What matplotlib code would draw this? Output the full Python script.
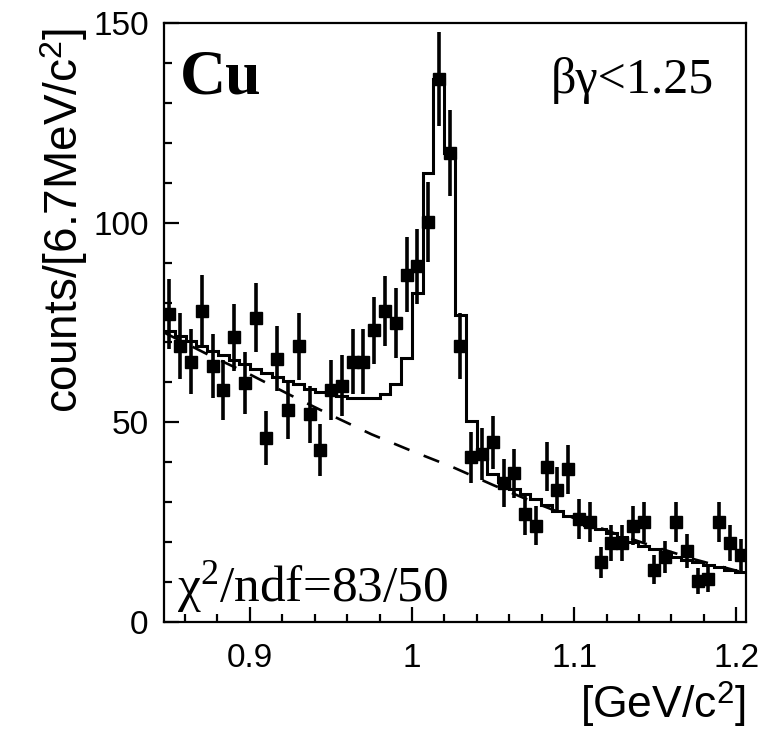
import numpy as np
import matplotlib.pyplot as plt
from matplotlib.ticker import MultipleLocator

plt.rcParams['mathtext.fontset'] = 'custom'
plt.rcParams['mathtext.rm'] = 'Liberation Serif'
plt.rcParams['mathtext.sf'] = 'Liberation Sans'
plt.rcParams['mathtext.it'] = 'Liberation Serif:italic'
plt.rcParams['lines.scale_dashes'] = False

# histogram binning: 54 bins between the axis limits
X_LO = 0.847
X_HI = 1.206
N_BINS = 54

counts = [77.2, 69.1, 65.2, 78.0, 64.1, 58.1, 71.3, 59.9, 76.2, 46.1,
          65.9, 53.2, 69.0, 52.0, 43.1, 58.1, 59.2, 65.2, 65.2, 73.0,
          77.8, 74.9, 87.0, 89.1, 100.1, 136.0, 117.5, 69.1, 41.2, 42.0,
          45.0, 34.8, 37.2, 27.0, 24.1, 38.9, 33.0, 38.2, 25.8, 25.1,
          14.9, 19.9, 19.9, 24.1, 25.1, 13.1, 16.2, 25.1, 17.8, 10.2,
          10.8, 25.1, 19.9, 16.8]

errors = [8.8, 8.3, 8.1, 8.8, 8.0, 7.6, 8.4, 7.7, 8.7, 6.8,
          8.1, 7.3, 8.3, 7.2, 6.6, 7.6, 7.7, 8.1, 8.1, 8.5,
          8.8, 8.7, 9.3, 9.4, 10.0, 11.7, 10.8, 8.3, 6.4, 6.5,
          6.7, 5.9, 6.1, 5.2, 4.9, 6.2, 5.7, 6.2, 5.1, 5.0,
          3.9, 4.5, 4.5, 4.9, 5.0, 3.6, 4.0, 5.0, 4.2, 3.2,
          3.3, 5.0, 4.5, 4.1]

fit = [72.8, 71.6, 70.3, 69.1, 67.8, 66.8, 65.6, 64.5, 63.4, 62.4,
       61.4, 60.3, 59.5, 58.4, 57.5, 57.0, 56.5, 56.0, 56.0, 56.2,
       57.2, 59.7, 66.0, 82.5, 112.5, 136.0, 117.5, 77.0, 50.3, 40.8,
       37.0, 35.0, 33.3, 32.0, 30.8, 29.3, 27.8, 26.6, 25.3, 24.3,
       23.3, 22.3, 21.2, 20.1, 19.1, 18.3, 17.3, 16.4, 15.6, 14.9,
       14.3, 13.7, 13.1, 12.4]

bg_x = [0.847, 0.875, 0.900, 0.925, 0.950, 0.975, 1.000, 1.025, 1.050,
        1.075, 1.100, 1.125, 1.150, 1.175, 1.206]
bg_y = [72.5, 66.8, 62.0, 56.8, 51.8, 47.0, 42.8, 38.8, 34.3,
        30.0, 26.0, 22.2, 18.8, 15.6, 12.2]

edges = np.linspace(X_LO, X_HI, N_BINS + 1)
centers = 0.5 * (edges[:-1] + edges[1:])

fig = plt.figure(figsize=(7.8, 7.32), dpi=100)
ax = fig.add_axes([164 / 780, 1 - 622 / 732, 582 / 780, 599 / 732])

ax.plot(bg_x, bg_y, color='black', lw=1.9, dashes=(12, 11), zorder=1)
ax.stairs(fit, edges, color='black', lw=2.2, baseline=None, zorder=2)
ax.errorbar(centers, counts, yerr=errors, fmt='s', color='black', ms=8,
            elinewidth=2.6, capsize=0, zorder=3)

ax.set_xlim(X_LO, X_HI)
ax.set_ylim(0, 150)
ax.xaxis.set_major_locator(MultipleLocator(0.1))
ax.xaxis.set_minor_locator(MultipleLocator(0.02))
ax.yaxis.set_major_locator(MultipleLocator(50))
ax.yaxis.set_minor_locator(MultipleLocator(10))
ax.set_xticks([0.9, 1.0, 1.1, 1.2])
ax.set_xticklabels(['0.9', '1', '1.1', '1.2'])
ax.tick_params(which='both', direction='in', top=False, right=False,
               width=1.6, labelsize=24, labelfontfamily='Liberation Sans')
ax.tick_params(which='major', length=11)
ax.tick_params(which='minor', length=5.5)
ax.tick_params(axis='x', pad=15)
ax.tick_params(axis='y', pad=11)
for sp in ax.spines.values():
    sp.set_linewidth(1.6)

ax.text(0.027, 0.883, 'Cu', transform=ax.transAxes, fontsize=46,
        fontweight='bold', family='Liberation Serif', ha='left', va='baseline')
ax.text(0.945, 0.883, 'βγ<1.25', transform=ax.transAxes, fontsize=36,
        family='Liberation Serif', ha='right', va='baseline')
ax.text(0.022, 0.035, 'χ$^{\\mathrm{2}}$/ndf=83/50', transform=ax.transAxes,
        fontsize=37, family='Liberation Serif', ha='left', va='baseline')

fig.text(64 / 780, 1 - 28 / 732, 'counts/[6.7MeV/c$^{\\mathsf{2}}$]',
         rotation=90, ha='center', va='top', fontsize=33,
         family='Liberation Sans')
fig.text(746 / 780, 1 - 718 / 732, '[GeV/c$^{\\mathsf{2}}$]',
         ha='right', va='baseline', fontsize=32, family='Liberation Sans')

fig.savefig('out.png', dpi=100)
